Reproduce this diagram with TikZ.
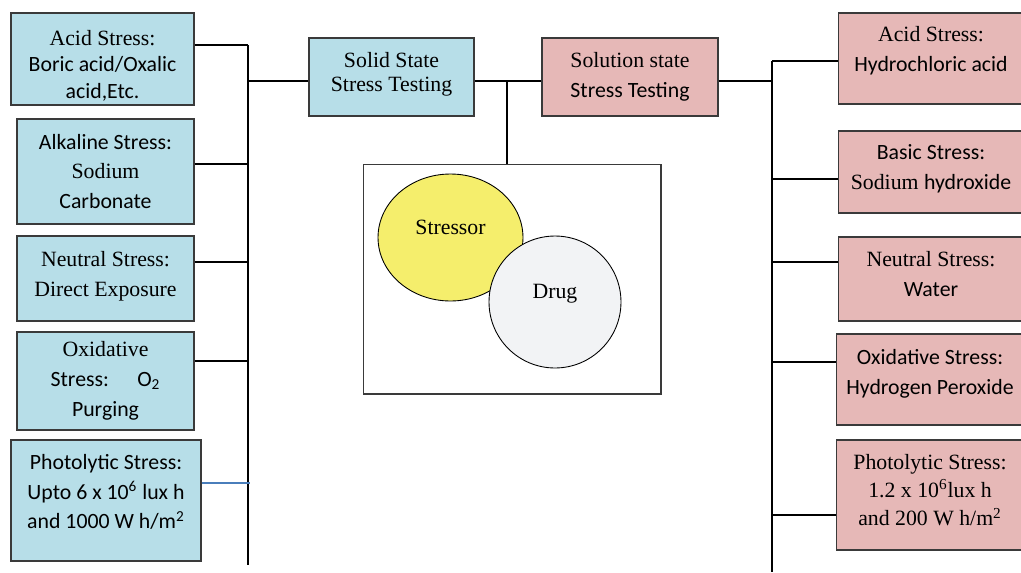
\documentclass[tikz,border=0pt]{standalone}
\usepackage{fontspec}
\setmainfont{Liberation Serif}
\newfontfamily\calibri{Carlito}
\usetikzlibrary{shapes.geometric}
\definecolor{solid-blue}{HTML}{B7DEE8}
\definecolor{soln-pink}{HTML}{E6B8B7}
\definecolor{stressor-yellow}{HTML}{F5EE6C}
\definecolor{drug-grey}{HTML}{F2F3F5}
\definecolor{box-line}{HTML}{3A3A3A}
\definecolor{link-blue}{HTML}{4A7EBB}

\begin{document}
\begin{tikzpicture}[x=0.02cm, y=-0.02cm,
    every node/.style={font=\fontsize{12.4}{17}\selectfont, align=center, inner sep=0pt},
    bluebox/.style={draw=box-line, line width=0.6pt, fill=solid-blue},
    pinkbox/.style={draw=box-line, line width=0.6pt, fill=soln-pink},
    link/.style={line width=0.8pt}]
    \useasboundingbox (0,0) rectangle (1021,572);
    % solid state side
    \node[bluebox, minimum width=3.66cm, minimum height=1.84cm,
      font=\fontsize{12.4}{15.2}\selectfont] (l1) at (102.5,59)
      {\mbox{}\\[1pt]Acid Stress:\\{\calibri Boric acid/Oxalic}\\{\calibri acid,Etc.}};
    \node[bluebox, minimum width=3.54cm, minimum height=2.1cm] (l2) at (105.5,171.5)
      {{\calibri Alkaline Stress:}\\Sodium\\{\calibri Carbonate}};
    \node[bluebox, minimum width=3.54cm, minimum height=1.7cm] (l3) at (105.5,278.5)
      {Neutral Stress:\\Direct Exposure\\[-11.4pt]};
    \node[bluebox, minimum width=3.54cm, minimum height=1.96cm] (l4) at (105.5,381)
      {Oxidative\\{\calibri Stress:\hspace{1.3em}O\textsubscript{2}}\\{\calibri Purging}};
    \node[bluebox, minimum width=3.8cm, minimum height=2.42cm, font=\calibri\fontsize{12.4}{17}\selectfont] (l5) at (106,500.5)
      {Photolytic Stress:\\Upto 6 x 10\textsuperscript{6} lux h\\and 1000 W h/m\textsuperscript{2}\\[-6.8pt]};
    % top row
    \node[bluebox, minimum width=3.3cm, minimum height=1.56cm,
      font=\fontsize{12.4}{14}\selectfont] (solid) at (391.5,77)
      {Solid State\\Stress Testing\\[-8.4pt]};
    \node[pinkbox, minimum width=3.52cm, minimum height=1.56cm] (soln) at (630,77)
      {Solution state\\{\calibri Stress Testing}};
    % stressor meets drug
    \node[draw=box-line, line width=0.6pt, minimum width=5.96cm, minimum height=4.6cm] (frame) at (512,279) {};
    \node[ellipse, draw, line width=0.5pt, fill=stressor-yellow, minimum width=2.9cm,
      minimum height=2.54cm, text depth=12pt] (stressor) at (450.5,237.5) {Stressor};
    \node[circle, draw, line width=0.5pt, fill=drug-grey, minimum size=2.64cm,
      text depth=12pt] (drug) at (555,302) {Drug};
    % solution state side
    \node[pinkbox, minimum width=3.72cm, minimum height=1.82cm] (r1) at (931,58.5)
      {Acid Stress:\\{\calibri Hydrochloric acid}\\[-6.2pt]};
    \node[pinkbox, minimum width=3.72cm, minimum height=1.64cm] (r2) at (931,172)
      {{\calibri Basic Stress:}\\Sodium {\calibri hydroxide}\\[-11.8pt]};
    \node[pinkbox, minimum width=3.72cm, minimum height=1.68cm] (r3) at (931,279)
      {Neutral Stress:\\{\calibri Water}\\[-11.4pt]};
    \node[pinkbox, minimum width=3.76cm, minimum height=1.82cm, font=\calibri\fontsize{12.4}{17}\selectfont] (r4) at (930,379.5)
      {Oxidative Stress:\\Hydrogen Peroxide\\[-8pt]};
    \node[pinkbox, minimum width=3.76cm, minimum height=2.2cm, font=\fontsize{12.4}{16}\selectfont] (r5) at (930,495)
      {Photolytic Stress:\\1.2 x 10\textsuperscript{6}lux h\\and 200 W h/m\textsuperscript{2}\\[-10.4pt]};

    % left trunk
    \coordinate (ltop) at (248,45);
    \coordinate (lbot) at (248,565);
    \coordinate (lj0) at (248,81);
    \coordinate (lj2) at (248,164);
    \coordinate (lj3) at (248,262);
    \coordinate (lj4) at (248,361);
    \coordinate (lj5) at (250,483);
    \draw[link] (ltop) -- (lbot);
    \draw[link] (l1.east |- ltop) -- (ltop);
    \draw[link] (l2.east |- lj2) -- (lj2);
    \draw[link] (l3.east |- lj3) -- (lj3);
    \draw[link] (l4.east |- lj4) -- (lj4);
    \draw[line width=0.8pt, link-blue] (l5.east |- lj5) -- (lj5);
    \draw[link] (lj0) -- (solid.west |- lj0);
    % middle
    \coordinate (mid) at (507,81);
    \draw[link] (solid.east |- mid) -- (soln.west |- mid);
    \draw[link] (mid) -- (mid |- frame.north);
    % right trunk
    \coordinate (rtop) at (772,61);
    \coordinate (rbot) at (772,572);
    \coordinate (rj0) at (772,81);
    \coordinate (rj2) at (772,179);
    \coordinate (rj3) at (772,262);
    \coordinate (rj4) at (772,362);
    \coordinate (rj5) at (772,515);
    \draw[link] (rtop) -- (rbot);
    \draw[link] (soln.east |- rj0) -- (rj0);
    \draw[link] (rtop) -- (r1.west |- rtop);
    \draw[link] (rj2) -- (r2.west |- rj2);
    \draw[link] (rj3) -- (r3.west |- rj3);
    \draw[link] (rj4) -- (r4.west |- rj4);
    \draw[link] (rj5) -- (r5.west |- rj5);
\end{tikzpicture}
\end{document}
